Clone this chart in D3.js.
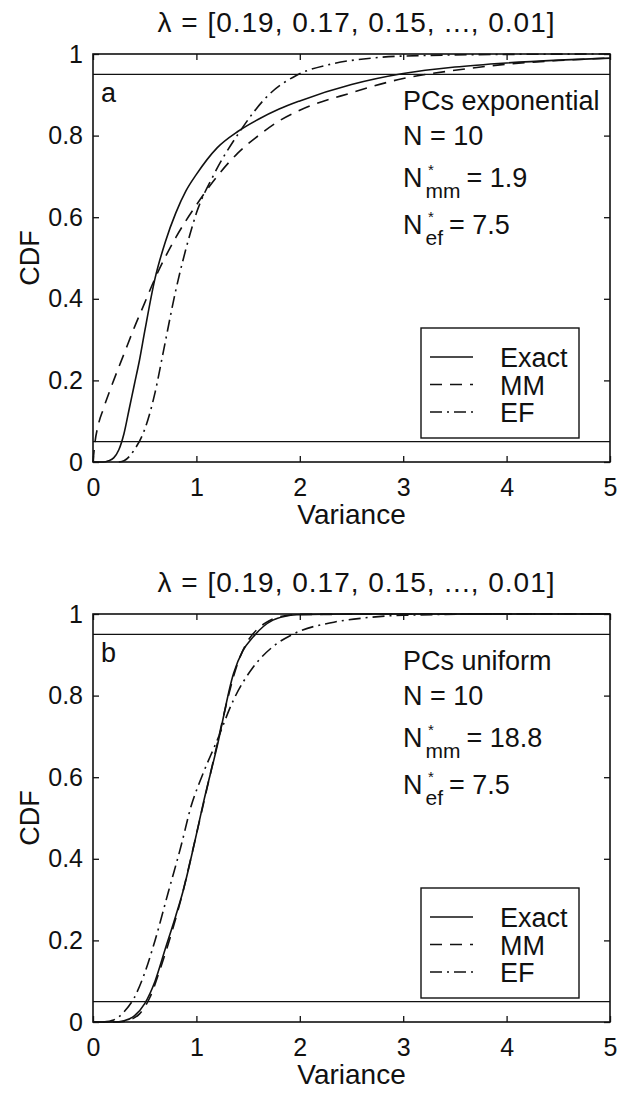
<!DOCTYPE html>
<html lang="en">
<head>
    <meta charset="UTF-8">
    <title>CDF of variance</title>
    <style>
        body { margin: 0; background: #fff; }
        svg { display: block; font-family: "Liberation Sans", Arial, sans-serif; }
        text { fill: #111; }
    </style>
</head>
<body>
<div id="workspace"></div>
<script src="https://cdn.jsdelivr.net/npm/d3@7/dist/d3.min.js"></script>
<script>
    // ---- data: [variance, CDF] ----
    const titleText = "\u03bb = [0.19, 0.17, 0.15, ..., 0.01]";
    const xTicks = [0, 1, 2, 3, 4, 5];
    const yTicks = [0, 0.2, 0.4, 0.6, 0.8, 1];
    const refLevels = [0.05, 0.95];
    const seriesNames = ["Exact", "MM", "EF"];

    // panel a : PCs exponential
    const expExact = [[0, 0], [0.1, 0], [0.15, 0.003], [0.2, 0.01], [0.25, 0.03], [0.3, 0.07], [0.35, 0.13],
        [0.4, 0.19], [0.45, 0.25], [0.5, 0.32], [0.6, 0.45], [0.7, 0.54], [0.8, 0.61], [0.9, 0.665],
        [1.0, 0.705], [1.2, 0.77], [1.4, 0.81], [1.6, 0.84], [1.8, 0.865], [2.0, 0.885], [2.5, 0.925],
        [3.0, 0.952], [3.5, 0.968], [4.0, 0.978], [4.5, 0.985], [5.0, 0.99]];
    const expMM = [[0, 0], [0.02, 0.05], [0.05, 0.09], [0.1, 0.13], [0.2, 0.2], [0.3, 0.265], [0.4, 0.33],
        [0.5, 0.39], [0.6, 0.45], [0.8, 0.55], [1.0, 0.63], [1.2, 0.7], [1.4, 0.757], [1.6, 0.8],
        [1.8, 0.836], [2.0, 0.862], [2.5, 0.905], [3.0, 0.94], [3.5, 0.96], [4.0, 0.975], [4.5, 0.984], [5.0, 0.99]];
    const expEF = [[0.25, 0], [0.3, 0.003], [0.4, 0.03], [0.5, 0.08], [0.6, 0.17], [0.68, 0.27], [0.8, 0.42],
        [0.94, 0.56], [1.0, 0.61], [1.16, 0.7], [1.42, 0.81], [1.68, 0.895], [1.97, 0.948], [2.3, 0.975],
        [2.7, 0.99], [3.0, 0.995], [4.0, 0.999], [5.0, 1.0]];

    // panel b : PCs uniform
    const uniExact = [[0, 0], [0.2, 0], [0.3, 0.003], [0.4, 0.015], [0.5, 0.045], [0.6, 0.1], [0.7, 0.18],
        [0.8, 0.26], [0.87, 0.32], [1.0, 0.46], [1.07, 0.54], [1.2, 0.675], [1.36, 0.855], [1.45, 0.91],
        [1.55, 0.944], [1.65, 0.97], [1.74, 0.985], [1.85, 0.994], [1.97, 0.998], [2.5, 1.0], [5.0, 1.0]];
    const uniMM = [[0, 0], [0.25, 0], [0.35, 0.005], [0.45, 0.02], [0.55, 0.06], [0.65, 0.13], [0.75, 0.21],
        [0.85, 0.3], [1.0, 0.46], [1.1, 0.57], [1.2, 0.68], [1.3, 0.79], [1.4, 0.88], [1.5, 0.935],
        [1.6, 0.965], [1.7, 0.983], [1.8, 0.993], [2.0, 0.999], [5.0, 1.0]];
    const uniEF = [[0.1, 0], [0.2, 0.005], [0.3, 0.025], [0.4, 0.06], [0.5, 0.12], [0.6, 0.2], [0.73, 0.32],
        [0.85, 0.43], [0.95, 0.53], [1.05, 0.6], [1.2, 0.69], [1.36, 0.79], [1.55, 0.87], [1.74, 0.92],
        [1.93, 0.95], [2.33, 0.98], [2.61, 0.99], [3.0, 0.997], [4.0, 1.0], [5.0, 1.0]];

    const panelLetters = ["a", "b"];
    const panelLabels = ["PCs exponential", "PCs uniform"];
    const nValues = ["10", "10"];
    const nmmValues = ["1.9", "18.8"];
    const nefValues = ["7.5", "7.5"];

    // ---- layout ----
    const W = 618, H = 1093;
    const left = 93, right = 610, plotH = 408;
    const panelTops = [54, 614];
    const dashes = ["none", "12,8", "12,5,2,5"];
    const fs = 25;   // tick labels
    const fl = 27;   // labels, legend, notes

    const svg = d3.select("#workspace").append("svg")
        .attr("width", W).attr("height", H);

    const x = d3.scaleLinear().domain([0, 5]).range([left, right]);

    const panels = [
        [expExact, expMM, expEF],
        [uniExact, uniMM, uniEF]
    ];

    panels.forEach(function (series, p) {
        const top = panelTops[p];
        const y = d3.scaleLinear().domain([0, 1]).range([top + plotH, top]);
        const g = svg.append("g");

        // title
        g.append("text")
            .attr("x", (left + right) / 2 + 5)
            .attr("y", top - 22)
            .attr("text-anchor", "middle")
            .style("font-size", "28px")
            .style("letter-spacing", "1px")
            .text(titleText);

        // axes, matlab style: ticks inward on all four sides
        const axB = d3.axisBottom(x).tickValues(xTicks).tickSize(-6).tickPadding(16).tickFormat(d3.format("d"));
        const axT = d3.axisTop(x).tickValues(xTicks).tickSize(-6).tickFormat("");
        const axL = d3.axisLeft(y).tickValues(yTicks).tickSize(-6).tickPadding(10).tickFormat(function (d) { return d === 0 || d === 1 ? d : d.toFixed(1); });
        const axR = d3.axisRight(y).tickValues(yTicks).tickSize(-6).tickFormat("");

        const axes = [
            g.append("g").attr("transform", "translate(0," + (top + plotH) + ")").call(axB),
            g.append("g").attr("transform", "translate(0," + top + ")").call(axT),
            g.append("g").attr("transform", "translate(" + left + ",0)").call(axL),
            g.append("g").attr("transform", "translate(" + right + ",0)").call(axR)
        ];
        axes.forEach(function (a) {
            a.select(".domain").remove();
            a.selectAll("line").attr("stroke", "#111").attr("stroke-width", 1.3);
            a.selectAll("text").style("font-size", fs + "px").attr("fill", "#111").style("font-family", "Liberation Sans, Arial, sans-serif");
        });

        // frame
        g.append("rect")
            .attr("x", left).attr("y", top)
            .attr("width", right - left).attr("height", plotH)
            .attr("fill", "none").attr("stroke", "#111").attr("stroke-width", 1.6);

        // reference levels
        g.selectAll(".ref")
            .data(refLevels)
            .enter()
            .append("line")
            .attr("x1", left).attr("x2", right)
            .attr("y1", function (d) { return y(d); })
            .attr("y2", function (d) { return y(d); })
            .attr("stroke", "#111").attr("stroke-width", 1.4);

        // curves
        const line = d3.line()
            .x(function (d) { return x(d[0]); })
            .y(function (d) { return y(d[1]); })
            .curve(d3.curveMonotoneX);

        g.selectAll(".curve")
            .data(series)
            .enter()
            .append("path")
            .attr("d", line)
            .attr("fill", "none")
            .attr("stroke", "#111")
            .attr("stroke-width", 1.6)
            .attr("stroke-dasharray", function (d, i) { return dashes[i]; });

        // panel letter
        g.append("text")
            .attr("x", 101).attr("y", top + 48)
            .style("font-size", fl + "px")
            .text(panelLetters[p]);

        // annotation block
        const ax0 = 403;
        g.append("text").attr("x", ax0).attr("y", top + 56)
            .style("font-size", fl + "px").text(panelLabels[p]);
        g.append("text").attr("x", ax0).attr("y", top + 91)
            .style("font-size", fl + "px").text("N = " + nValues[p]);

        [[nmmValues[p], "mm", top + 133], [nefValues[p], "ef", top + 180]].forEach(function (r) {
            const t = g.append("text").attr("x", ax0).attr("y", r[2]).style("font-size", fl + "px");
            t.append("tspan").text("N");
            t.append("tspan").attr("dx", 3).attr("dy", 11).style("font-size", "21px").text(r[1]);
            t.append("tspan").attr("dx", 6).attr("dy", -11).text("= " + r[0]);
            g.append("text").attr("x", ax0 + 25).attr("y", r[2] - 12)
                .style("font-size", "15px").text("*");
        });

        // legend
        const lx = 421, lw = 158, lh = 110;
        const ly = top + plotH - 24 - lh;
        const lg = g.append("g");
        lg.append("rect")
            .attr("x", lx).attr("y", ly).attr("width", lw).attr("height", lh)
            .attr("fill", "#fff").attr("stroke", "#111").attr("stroke-width", 1.4);
        seriesNames.forEach(function (name, i) {
            const cy = ly + 29 + i * 27.5;
            lg.append("line")
                .attr("x1", lx + 9).attr("x2", lx + 52)
                .attr("y1", cy).attr("y2", cy)
                .attr("stroke", "#111").attr("stroke-width", 1.5)
                .attr("stroke-dasharray", dashes[i]);
            lg.append("text")
                .attr("x", lx + 79).attr("y", cy + 10)
                .style("font-size", fl + "px")
                .text(name);
        });

        // axis labels
        g.append("text")
            .attr("x", (left + right) / 2)
            .attr("y", top + plotH + 62)
            .attr("text-anchor", "middle")
            .style("font-size", "28px")
            .text("Variance");
        g.append("text")
            .attr("transform", "translate(39," + (top + plotH / 2) + ") rotate(-90)")
            .attr("text-anchor", "middle")
            .style("font-size", fl + "px")
            .text("CDF");
    });
</script>
</body>
</html>
